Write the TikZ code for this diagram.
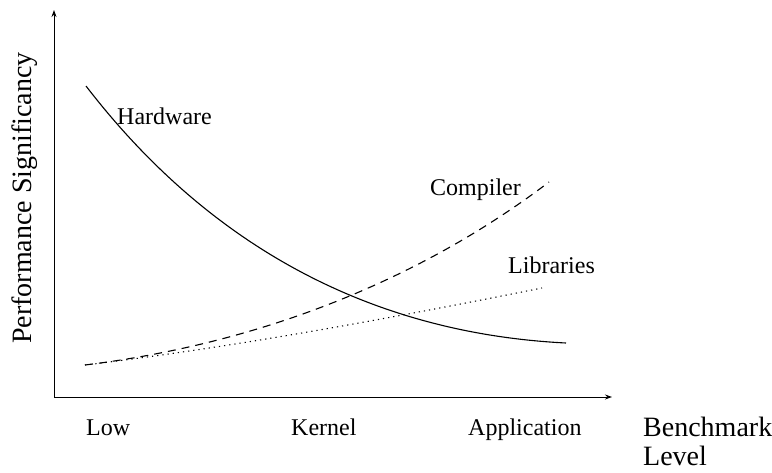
\documentclass[tikz,border=0pt]{standalone}
\usepackage{fontspec}
\setmainfont{Liberation Serif}
\usetikzlibrary{arrows.meta}
\begin{document}
\begin{tikzpicture}[x=1pt,y=-1pt,
  axis/.style={line width=0.9pt,-{Stealth[length=7pt,width=5pt]}},
  curve/.style={line width=1.1pt},
  ticklabel/.style={font=\fontsize{24}{29}\selectfont,inner sep=0pt,anchor=base west},
  axislabel/.style={font=\fontsize{28}{29}\selectfont,inner sep=0pt},
  curvelabel/.style={font=\fontsize{24}{29}\selectfont,inner sep=0pt,anchor=base west}]
\useasboundingbox (0,0) rectangle (772,472);
% axes
\coordinate (origin) at (54,397);
\coordinate (ytip) at (54,10);
\coordinate (xtip) at (612,397);
\draw[axis] (origin) -- (ytip);
\draw[axis] (origin) -- (xtip);
% curves
\coordinate (hw0) at (86,86);
\coordinate (hw1) at (566,343);
\coordinate (cp0) at (85,365);
\coordinate (cp1) at (549,182);
\coordinate (lb1) at (542,288);
\draw[curve] (hw0) .. controls (206,242) and (366,333) .. (hw1);
\draw[curve,dash pattern=on 8pt off 6pt] (cp0) .. controls (280,341) and (436,268) .. (cp1);
\draw[curve,dash pattern=on 1.2pt off 4pt] (cp0) .. controls (235,347) and (392,318) .. (lb1);
% labels
\node[curvelabel] (hwl) at (117,124) {Hardware};
\node[curvelabel] (cpl) at (430,195) {Compiler};
\node[curvelabel] (lbl) at (508,273) {Libraries};
\node[ticklabel] (low) at (86,435) {Low};
\node[ticklabel] (kern) at (291,435) {Kernel};
\node[ticklabel] (app) at (468,435) {Application};
\node[axislabel,anchor=base west,align=left] (bl) at (643,465) {Benchmark\\Level};
\node[axislabel,rotate=90] (ps) at (25,198) {Performance Significancy};
\end{tikzpicture}
\end{document}
